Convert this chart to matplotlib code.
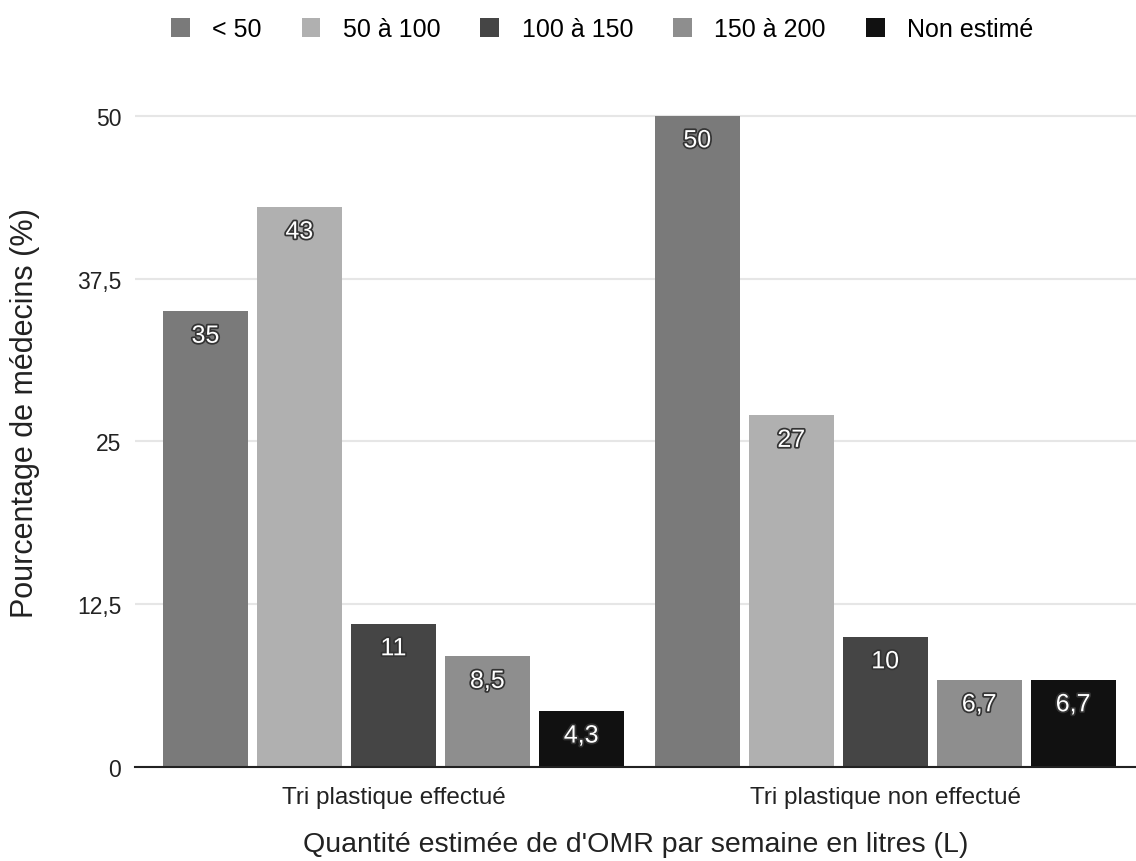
import numpy as np
import matplotlib
matplotlib.use('Agg')
from matplotlib import pyplot as plt
import matplotlib.patheffects as pe

plt.rcParams['font.family'] = ['Liberation Sans', 'DejaVu Sans']

groups = ['Tri plastique effectué', 'Tri plastique non effectué']
series = ['< 50', '50 à 100', '100 à 150', '150 à 200', 'Non estimé']
values = [
    [35, 50],     # < 50
    [43, 27],     # 50 à 100
    [11, 10],     # 100 à 150
    [8.5, 6.7],   # 150 à 200
    [4.3, 6.7],   # Non estimé
]
colors = ['#7a7a7a', '#b0b0b0', '#454545', '#8e8e8e', '#111111']
yticks = [0, 12.5, 25, 37.5, 50]
ytick_labels = ['0', '12,5', '25', '37,5', '50']

def fmt(v):
    return ('%g' % v).replace('.', ',')

fig = plt.figure(figsize=(11.36, 8.62), dpi=100)
ax = fig.add_axes([0.119, 0.109, 0.881, 0.763])

x = np.arange(len(groups))
step = 0.191
width = 0.173
halo = [pe.withStroke(linewidth=2.5, foreground='#333333')]
for i, (name, vals, c) in enumerate(zip(series, values, colors)):
    pos = x + (i - 2) * step
    bars = ax.bar(pos, vals, width, color=c, label=name, zorder=3)
    for b, v in zip(bars, vals):
        ax.annotate(fmt(v), (b.get_x() + b.get_width() / 2, v), xytext=(0, -9),
                    textcoords='offset points', ha='center', va='top',
                    color='white', fontsize=18, zorder=4, path_effects=halo)

ax.set_xlim(-0.525, 1.51)
ax.set_ylim(0, 50.5)
ax.set_yticks(yticks)
ax.set_yticklabels(ytick_labels, fontsize=16.5, color='#222222')
ax.set_xticks(x)
ax.set_xticklabels(groups, fontsize=17.5, color='#222222')
ax.tick_params(axis='both', length=0)
ax.tick_params(axis='y', pad=10)
ax.tick_params(axis='x', pad=14)
ax.grid(axis='y', color='#e6e6e6', linewidth=1.5, zorder=0)
for s in ['top', 'right', 'left']:
    ax.spines[s].set_visible(False)
ax.spines['bottom'].set_color('#222222')
ax.spines['bottom'].set_linewidth(1.5)
ax.spines['bottom'].set_zorder(5)

ax.set_ylabel('Pourcentage de médecins (%)', fontsize=22, color='#222222')
ax.yaxis.set_label_coords(-0.095, 0.54)
ax.set_xlabel("Quantité estimée de d'OMR par semaine en litres (L)", fontsize=20.5,
              color='#222222', va='center')
ax.xaxis.set_label_coords(0.5, -0.117)

fig.legend(loc='upper center', bbox_to_anchor=(0.53, 1.005), ncol=5, frameon=False,
           fontsize=18, handlelength=0.75, handleheight=0.75, columnspacing=1.6,
           handletextpad=0.9)

fig.savefig('out.png', dpi=100)
